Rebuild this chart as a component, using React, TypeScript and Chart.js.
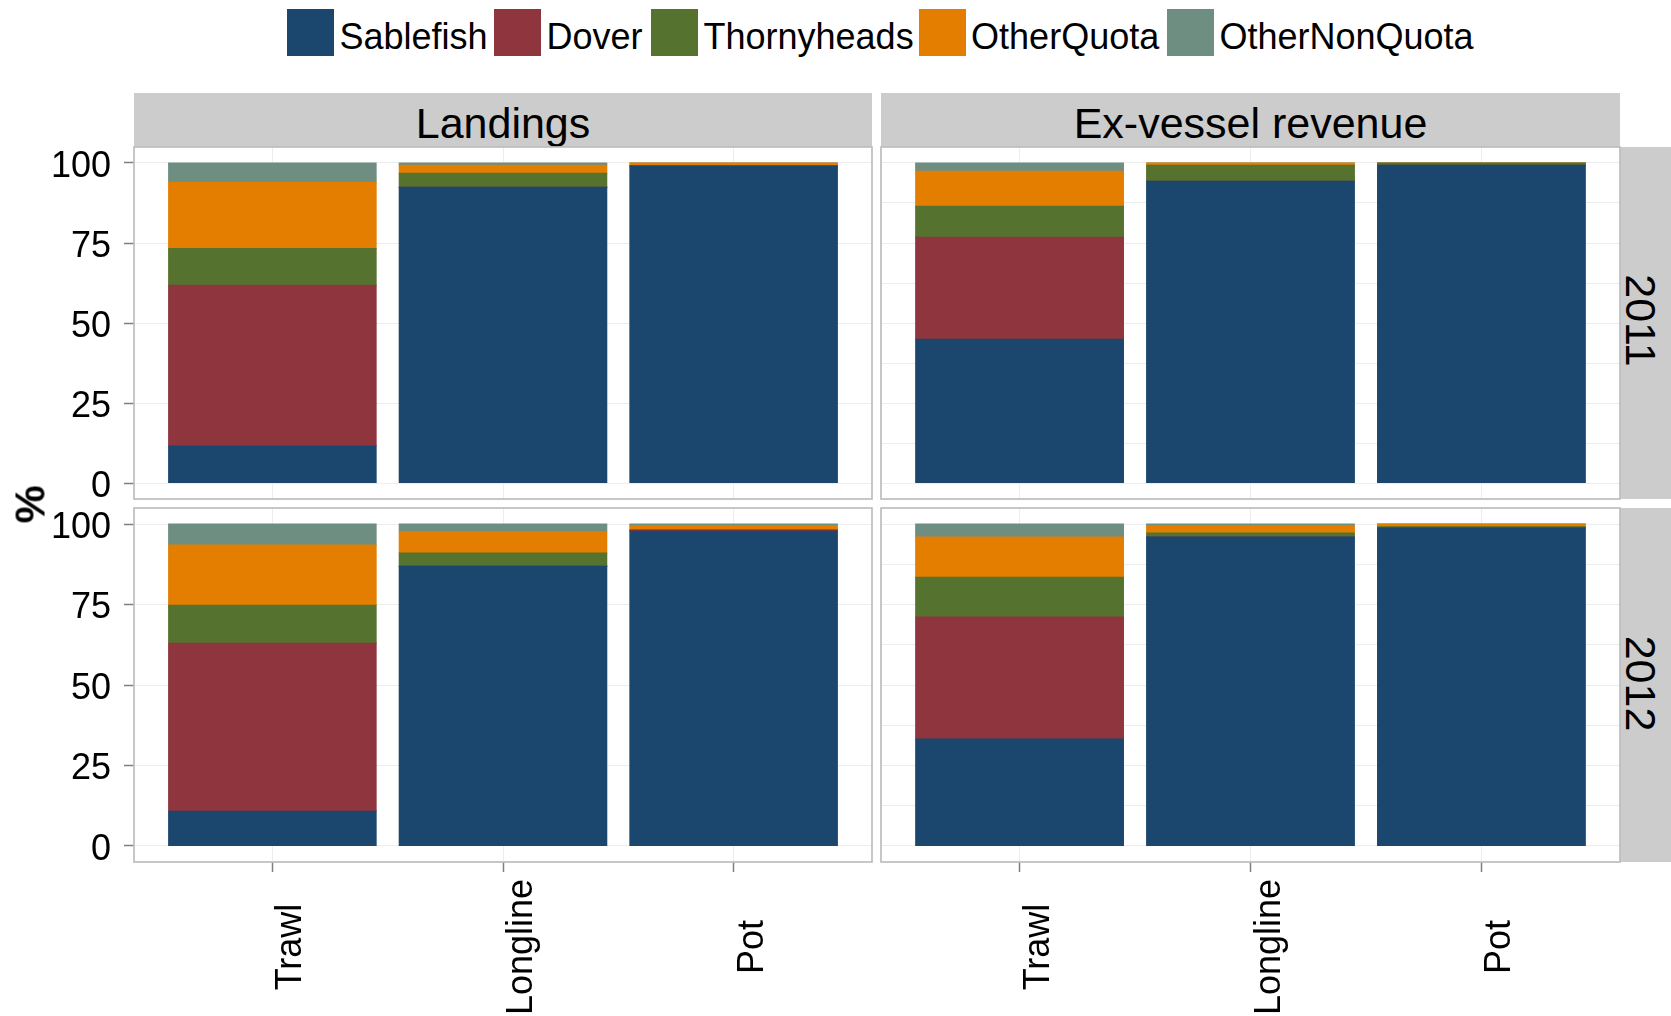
import React, { useEffect, useRef } from "react";
import { Chart, registerables } from "chart.js";

Chart.register(...registerables);

// ---------------- data ----------------
const gears = ["Trawl", "Longline", "Pot"];
const species = ["Sablefish", "Dover", "Thornyheads", "OtherQuota", "OtherNonQuota"];
const speciesColors = ["#1B476F", "#8E353E", "#55732E", "#E37E00", "#6E8E82"];
const measures = ["Landings", "Ex-vessel revenue"];
const years = ["2011", "2012"];
const yTickValues = [0, 12.5, 25, 37.5, 50, 62.5, 75, 87.5, 100];
const yAxisTitle = "%";

// rows follow `species`, columns follow `gears` (percent)
const landings2011 = [
  [11.6, 92.4, 99.1],
  [50.2, 0, 0],
  [11.5, 4.4, 0],
  [20.7, 2.5, 0.9],
  [6.0, 0.7, 0],
];
const revenue2011 = [
  [44.9, 94.3, 99.3],
  [31.9, 0, 0],
  [9.7, 5.0, 0.7],
  [10.9, 0.7, 0],
  [2.6, 0, 0],
];
const landings2012 = [
  [10.8, 86.9, 97.8],
  [52.2, 0, 0.4],
  [11.8, 4.1, 0],
  [18.7, 6.6, 1.3],
  [6.5, 2.4, 0.5],
];
const revenue2012 = [
  [33.2, 96.0, 98.8],
  [37.9, 0, 0],
  [12.4, 1.2, 0.4],
  [12.5, 2.3, 0.8],
  [4.0, 0.5, 0],
];

// ---------------- style / layout ----------------
const FONT = "'Liberation Sans', Arial, Helvetica, sans-serif";
const GRID = "#EDEDED";
const TICK = "#7F7F7F";
const BORDER = "#BEBEBE";
const STRIP = "#CCCCCC";

const panelLeft = [134, 881];
const panelWidth = [738, 739];
const panelTop = [147, 508];
const panelHeight = [352, 354];
const canvasX = [0, 879];
const canvasW = [874, 743];
const canvasY = [145, 506];
const canvasH = [356, 368];

const legendBoxX = [287, 494, 651, 918.6, 1167];

const panelBorder = {
  id: "panelBorder",
  afterDatasetsDraw(chart: any) {
    const { ctx, chartArea: a } = chart;
    ctx.save();
    ctx.strokeStyle = BORDER;
    ctx.lineWidth = 1.7;
    ctx.strokeRect(a.left, a.top, a.right - a.left, a.bottom - a.top);
    ctx.restore();
  },
};

function buildChart(canvas: HTMLCanvasElement, values: number[][], showY: boolean, showXTicks: boolean) {
  return new Chart(canvas, {
    type: "bar",
    data: {
      datasets: species.map((name, s) => ({
        label: name,
        data: gears.map((_, i) => ({ x: i + 1, y: values[s][i] })),
        backgroundColor: speciesColors[s],
        borderWidth: 0,
        inflateAmount: 0.5,
        barPercentage: 0.9,
        categoryPercentage: 1,
      })),
    },
    options: {
      animation: false,
      responsive: false,
      devicePixelRatio: 1,
      events: [],
      layout: { padding: { top: 2, right: 2, bottom: 2, left: showY ? 0 : 2 } },
      plugins: { legend: { display: false }, tooltip: { enabled: false } },
      scales: {
        x: {
          type: "linear",
          stacked: true,
          offset: false,
          min: 0.4,
          max: 3.6,
          afterBuildTicks: (s: any) => {
            s.ticks = gears.map((_, i) => ({ value: i + 1 }));
          },
          ticks: { display: false },
          grid: {
            offset: false,
            color: GRID,
            lineWidth: 1,
            drawTicks: showXTicks,
            tickLength: 10,
            tickColor: TICK,
            tickWidth: 1.5,
          },
          border: { display: false },
          afterFit: (s: any) => {
            s.height = showXTicks ? 10 : 0;
            s.paddingLeft = 0;
            s.paddingRight = 0;
          },
        },
        y: {
          type: "linear",
          stacked: true,
          min: -5,
          max: 105,
          afterBuildTicks: (s: any) => {
            s.ticks = yTickValues.map((v) => ({ value: v }));
          },
          ticks: {
            display: showY,
            callback: (v: any) => (Number(v) % 25 === 0 ? String(v) : ""),
            font: { family: FONT, size: 36 },
            color: "#000000",
            padding: 13,
            labelOffset: 4,
          },
          grid: {
            color: GRID,
            lineWidth: 1,
            drawTicks: showY,
            tickLength: 10,
            tickColor: (ctx: any) =>
              ctx.tick && Number(ctx.tick.value) % 25 === 0 ? TICK : "rgba(0,0,0,0)",
            tickWidth: 1.5,
          },
          border: { display: false },
          afterFit: (s: any) => {
            if (showY) s.width = 134;
            s.paddingTop = 0;
            s.paddingBottom = 0;
          },
        },
      },
    } as any,
    plugins: [panelBorder],
  });
}

const panelValues = [landings2011, revenue2011, landings2012, revenue2012];

export default function App() {
  const r0 = useRef<HTMLCanvasElement>(null);
  const r1 = useRef<HTMLCanvasElement>(null);
  const r2 = useRef<HTMLCanvasElement>(null);
  const r3 = useRef<HTMLCanvasElement>(null);
  const refs = [r0, r1, r2, r3];

  useEffect(() => {
    const charts = panelValues.map((vals, k) => {
      const row = Math.floor(k / 2);
      const col = k % 2;
      return buildChart(refs[k].current as HTMLCanvasElement, vals, col === 0, row === 1);
    });
    return () => charts.forEach((c) => c.destroy());
  }, []);

  const text = (extra: React.CSSProperties): React.CSSProperties => ({
    position: "absolute",
    fontFamily: FONT,
    color: "#000",
    whiteSpace: "nowrap",
    ...extra,
  });

  return (
    <div
      style={{
        position: "absolute",
        left: 0,
        top: 0,
        width: 1671,
        height: 1016,
        background: "#FFFFFF",
        overflow: "hidden",
        fontFamily: FONT,
      }}
    >
      {/* legend */}
      {species.map((name, s) => (
        <React.Fragment key={name}>
          <div
            style={{
              position: "absolute",
              left: legendBoxX[s],
              top: 9,
              width: 47,
              height: 47,
              background: speciesColors[s],
            }}
          />
          <div
            style={text({
              left: legendBoxX[s] + 47 + 5.5,
              top: 18.5,
              height: 36,
              fontSize: 36,
              lineHeight: "36px",
            })}
          >
            {name}
          </div>
        </React.Fragment>
      ))}

      {/* top strips */}
      {measures.map((m, c) => (
        <React.Fragment key={m}>
          <div
            style={{
              position: "absolute",
              left: panelLeft[c],
              top: 93,
              width: panelWidth[c],
              height: 54,
              background: STRIP,
            }}
          />
          <div
            style={text({
              left: panelLeft[c],
              top: 102,
              width: panelWidth[c],
              textAlign: "center",
              fontSize: 43,
              lineHeight: "43px",
            })}
          >
            {m}
          </div>
        </React.Fragment>
      ))}

      {/* right strips */}
      {years.map((y, r) => (
        <React.Fragment key={y}>
          <div
            style={{
              position: "absolute",
              left: 1620,
              top: panelTop[r],
              width: 60,
              height: panelHeight[r],
              background: STRIP,
            }}
          />
          <div
            style={text({
              left: 1640 - 60,
              top: (r === 0 ? 320 : 683) - 21.5,
              width: 120,
              height: 43,
              textAlign: "center",
              fontSize: 43,
              lineHeight: "43px",
              transform: "rotate(90deg)",
            })}
          >
            {y}
          </div>
        </React.Fragment>
      ))}

      {/* canvases */}
      {refs.map((ref, k) => {
        const row = Math.floor(k / 2);
        const col = k % 2;
        return (
          <canvas
            key={k}
            ref={ref}
            width={canvasW[col]}
            height={canvasH[row]}
            style={{
              position: "absolute",
              left: canvasX[col],
              top: canvasY[row],
              width: canvasW[col],
              height: canvasH[row],
            }}
          />
        );
      })}

      {/* y axis title */}
      <div
        style={text({
          left: 30 - 30,
          top: 504 - 21.5,
          width: 60,
          height: 43,
          textAlign: "center",
          fontSize: 43,
          fontWeight: "bold",
          lineHeight: "43px",
          transform: "rotate(-90deg)",
        })}
      >
        {yAxisTitle}
      </div>

      {/* x tick labels (bottom row) */}
      {measures.map((m, c) =>
        gears.map((g, i) => {
          const tx = panelLeft[c] + ((i + 0.6) * panelWidth[c]) / 3.2;
          return (
            <div
              key={m + g}
              style={text({
                left: tx + 17 - 110,
                top: 946.5 - 18,
                width: 220,
                height: 36,
                textAlign: "center",
                fontSize: 36,
                lineHeight: "36px",
                transform: "rotate(-90deg)",
              })}
            >
              {g}
            </div>
          );
        })
      )}
    </div>
  );
}
